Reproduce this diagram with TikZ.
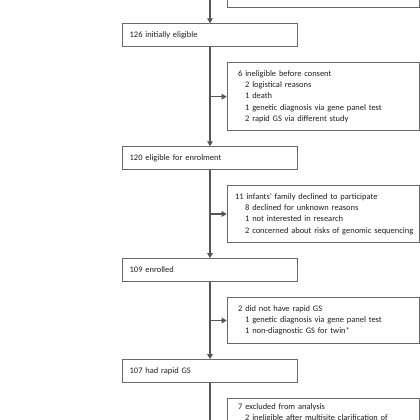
\documentclass[tikz,border=0pt]{standalone}
\usepackage{fontspec}
\setmainfont{Carlito}
\usetikzlibrary{arrows.meta}
\definecolor{linegray}{HTML}{555555}
\definecolor{boxgray}{HTML}{686868}
\definecolor{txt}{HTML}{1E1E1E}
\tikzset{
  txtfont/.style={font=\fontsize{8.45}{11.2}\selectfont, text=txt},
  mainbox/.style={draw=boxgray, line width=0.9pt, txtfont, minimum width=174.6pt, minimum height=22.5pt,
    text width=160.6pt, inner xsep=7pt, align=left},
  sidebox/.style={draw=boxgray, line width=0.9pt, txtfont, minimum width=192.3pt,
    text width=182.3pt, inner xsep=5pt, align=left, anchor=west},
  flow/.style={draw=linegray, line width=1.2pt},
  arr/.style={flow, -{Triangle[length=5pt,width=5.5pt]}},
}
\newcommand{\hd}{\hspace*{6pt}}
\newcommand{\ind}{\hspace*{13pt}}
\begin{document}
\begin{tikzpicture}[x=1pt,y=-1pt]
\useasboundingbox (0,0) rectangle (420,420);
\clip (0,0) rectangle (420,420);
% partial top box
\node[draw=boxgray, line width=0.9pt, minimum width=192.3pt, minimum height=40pt, inner sep=0pt, anchor=south west] (ex0) at (226.7,7.5) {};
\coordinate (topin) at (210,-5);
\node[mainbox] (n126) at (210,35) {126 initially eligible};
\node[mainbox] (n120) at (210,158) {120 eligible for enrolment};
\node[mainbox] (n109) at (210,269.85) {109 enrolled};
\node[mainbox] (n107) at (210,370.85) {107 had rapid GS};
\coordinate (botout) at (210,430);
\node[sidebox, minimum height=68pt] (ex1) at (226.7,96.7) {\hd 6 ineligible before consent\\
\ind 2 logistical reasons\\
\ind 1 death\\
\ind 1 genetic diagnosis via gene panel test\\
\ind 2 rapid GS via different study};
\node[sidebox, minimum height=56.6pt] (ex2) at (226.7,214) {\hspace*{3pt}11 infants’ family declined to participate\\
\ind 8 declined for unknown reasons\\
\ind 1 not interested in research\\
\ind\mbox{2 concerned about risks of genomic sequencing}};
\node[sidebox, minimum height=46pt] (ex3) at (226.7,320.5) {\hd 2 did not have rapid GS\\
\ind 1 genetic diagnosis via gene panel test\\
\ind 1 non-diagnostic GS for twin*};
\node[sidebox, anchor=north west, inner ysep=5pt] (ex4) at (226.7,398.3) {\hd 7 excluded from analysis\\
\ind\mbox{2 ineligible after multisite clarification of}\\
\strut};
\draw[arr] (topin) -- (n126);
\draw[arr] (n126) -- (n120);
\draw[arr] (n126.south |- ex1.west) -- (ex1.west);
\draw[arr] (n120) -- (n109);
\draw[arr] (n120.south |- ex2.west) -- (ex2.west);
\draw[arr] (n109) -- (n107);
\draw[arr] (n109.south |- ex3.west) -- (ex3.west);
\draw[flow] (n107) -- (botout);
\end{tikzpicture}
\end{document}
